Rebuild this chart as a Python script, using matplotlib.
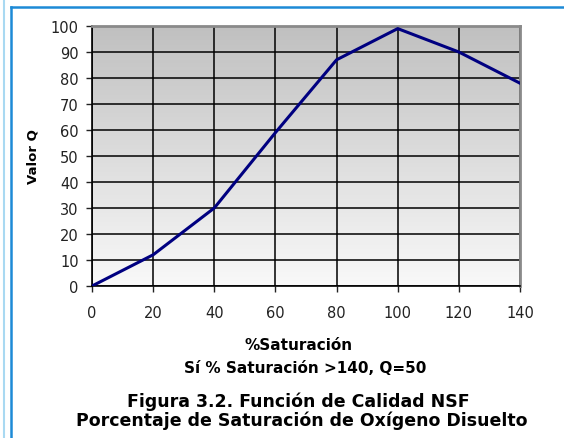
import numpy as np
import matplotlib.pyplot as plt
from matplotlib.colors import LinearSegmentedColormap
from matplotlib.lines import Line2D

plt.rcParams["font.family"] = ["DejaVu Sans"]

# datos
saturacion = [0, 20, 40, 60, 80, 100, 120, 140]
valor_q = [0, 12, 30, 59, 87, 99, 90, 78]
x_ticks = [0, 20, 40, 60, 80, 100, 120, 140]
y_ticks = [0, 10, 20, 30, 40, 50, 60, 70, 80, 90, 100]

W, H = 564, 439
fig = plt.figure(figsize=(W / 100, H / 100), dpi=100)
fig.patch.set_facecolor("white")

# marco exterior (líneas azules)
fig.add_artist(Line2D([3.5 / W, 3.5 / W], [0, 1], color="#a9d9f2", lw=1.5))
fig.add_artist(Line2D([11 / W, 11 / W], [0, 1 - 8 / H], color="#1d8ad6", lw=1.8))
fig.add_artist(Line2D([11 / W, 1], [1 - 8 / H, 1 - 8 / H], color="#1d8ad6", lw=1.8))

ax = fig.add_axes([92 / W, 1 - 287 / H, 428 / W, 260 / H])

# fondo degradado gris
grad = np.linspace(0, 1, 256).reshape(-1, 1)
cmap = LinearSegmentedColormap.from_list("g", ["#f9f9f9", "#c0c0c0"])
ax.imshow(grad, cmap=cmap, origin="lower", aspect="auto",
          extent=[0, 140, 0, 100], zorder=0)

ax.plot(saturacion, valor_q, color="#000080", lw=2.2, zorder=3,
        solid_joinstyle="round")

ax.set_xlim(0, 140)
ax.set_ylim(0, 100)
ax.set_xticks(x_ticks)
ax.set_yticks(y_ticks)
ax.grid(True, color="black", lw=1.1)
ax.tick_params(labelsize=10.5, length=4, width=1, colors="#222222")
ax.tick_params(axis="x", pad=10)
ax.tick_params(axis="y", pad=5.5)

for side in ["top", "right"]:
    ax.spines[side].set_color("#8a8a8a")
    ax.spines[side].set_linewidth(2)
for side in ["left", "bottom"]:
    ax.spines[side].set_color("black")
    ax.spines[side].set_linewidth(1.2)

ax.set_ylabel("Valor Q", fontsize=9.5, fontweight="bold", labelpad=8)

fig.text(299 / W, 1 - 350 / H, "%Saturación", ha="center", va="baseline",
         fontsize=11, fontweight="bold")
fig.text(305 / W, 1 - 373 / H, "Sí % Saturación >140, Q=50", ha="center",
         va="baseline", fontsize=11, fontweight="bold")
fig.text(298 / W, 1 - 407 / H, "Figura 3.2. Función de Calidad NSF",
         ha="center", va="baseline", fontsize=12.5, fontweight="bold")
fig.text(302 / W, 1 - 426 / H,
         "Porcentaje de Saturación de Oxígeno Disuelto",
         ha="center", va="baseline", fontsize=12.5, fontweight="bold")

fig.savefig("out.png", dpi=100)
